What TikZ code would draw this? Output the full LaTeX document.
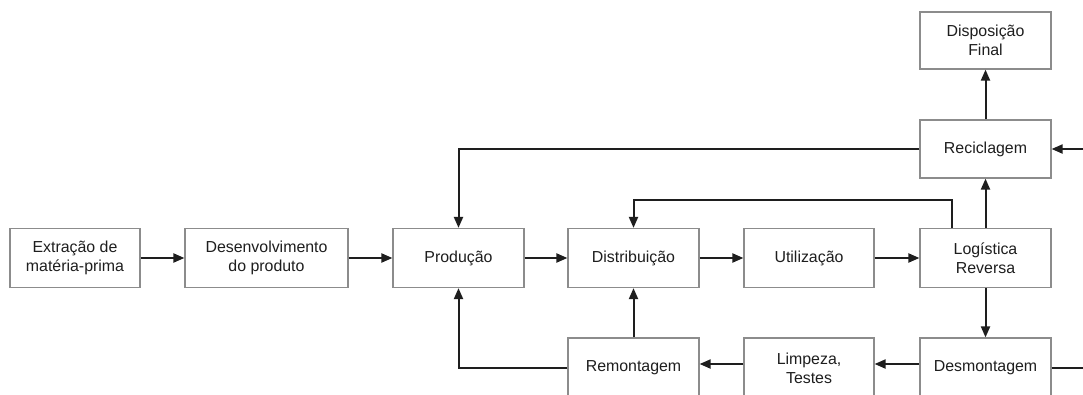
\documentclass[tikz,border=0pt]{standalone}
\usepackage{fontspec}
\setmainfont{Liberation Sans}
\usetikzlibrary{arrows.meta}
\definecolor{boxline}{HTML}{8C8C8C}
\definecolor{ink}{HTML}{1E1E1E}
\tikzset{
  stage/.style={draw=boxline, line width=1.2pt, fill=white, text=ink,
    minimum width=131pt, minimum height=59pt, inner sep=0pt,
    align=center, font=\fontsize{15.9pt}{19pt}\selectfont},
  flow/.style={draw=ink, line width=2pt,
    -{Triangle[length=11pt,width=9pt]}},
  plain/.style={draw=ink, line width=2pt}
}
\begin{document}
\begin{tikzpicture}[x=1pt,y=-1pt]
\useasboundingbox (0,0) rectangle (1083,394);
\clip (0,0) rectangle (1083,394);
\fill[white] (0,0) rectangle (1083,394);

% main chain
\node[stage, minimum width=130pt] (ext) at (75,258) {Extração de\\matéria-prima};
\node[stage, minimum width=163pt] (des) at (266.5,258) {Desenvolvimento\\do produto};
\node[stage] (prod) at (458.5,258) {Produção};
\node[stage] (dist) at (633.5,258) {Distribuição};
\node[stage, minimum width=130pt] (uti) at (809,258) {Utilização};
\node[stage] (log) at (985.5,258) {Logística\\Reversa};

% recovery branch
\node[stage, minimum height=58pt] (rec) at (985.5,149) {Reciclagem};
\node[stage, minimum height=57pt] (disp) at (985.5,40.5) {Disposição\\Final};
\node[stage, minimum height=60pt] (desm) at (985.5,368) {Desmontagem};
\node[stage, minimum width=130pt, minimum height=60pt] (limp) at (809,368) {Limpeza,\\Testes};
\node[stage, minimum height=60pt] (rem) at (633.5,368) {Remontagem};

% forward flow
\draw[flow] (ext) -- (des);
\draw[flow] (des) -- (prod);
\draw[flow] (prod) -- (dist);
\draw[flow] (dist) -- (uti);
\draw[flow] (uti) -- (log);

% reverse flow
\draw[flow] (log.north) -- (rec.south);
\draw[flow] (rec.north) -- (disp.south);
\draw[flow] (rec.west) -| (prod.north);
\draw[flow] ([xshift=-34pt]log.north) -- ++(0,-28) -| (dist.north);
\draw[flow] (log.south) -- (desm.north);
\draw[flow] ([yshift=4pt]desm.west) -- ([yshift=4pt]limp.east);
\draw[flow] ([yshift=4pt]limp.west) -- ([yshift=4pt]rem.east);
\draw[flow] (rem.north) -- (dist.south);
\draw[flow] (rem.west) -| (prod.south);

% loop leaving the right edge
\coordinate (loopdown) at (1100,368);
\coordinate (loopup) at (1100,149);
\draw[plain] (desm.east) -- (loopdown) -- (loopup);
\draw[flow] (loopup) -- (rec.east);
\end{tikzpicture}
\end{document}
